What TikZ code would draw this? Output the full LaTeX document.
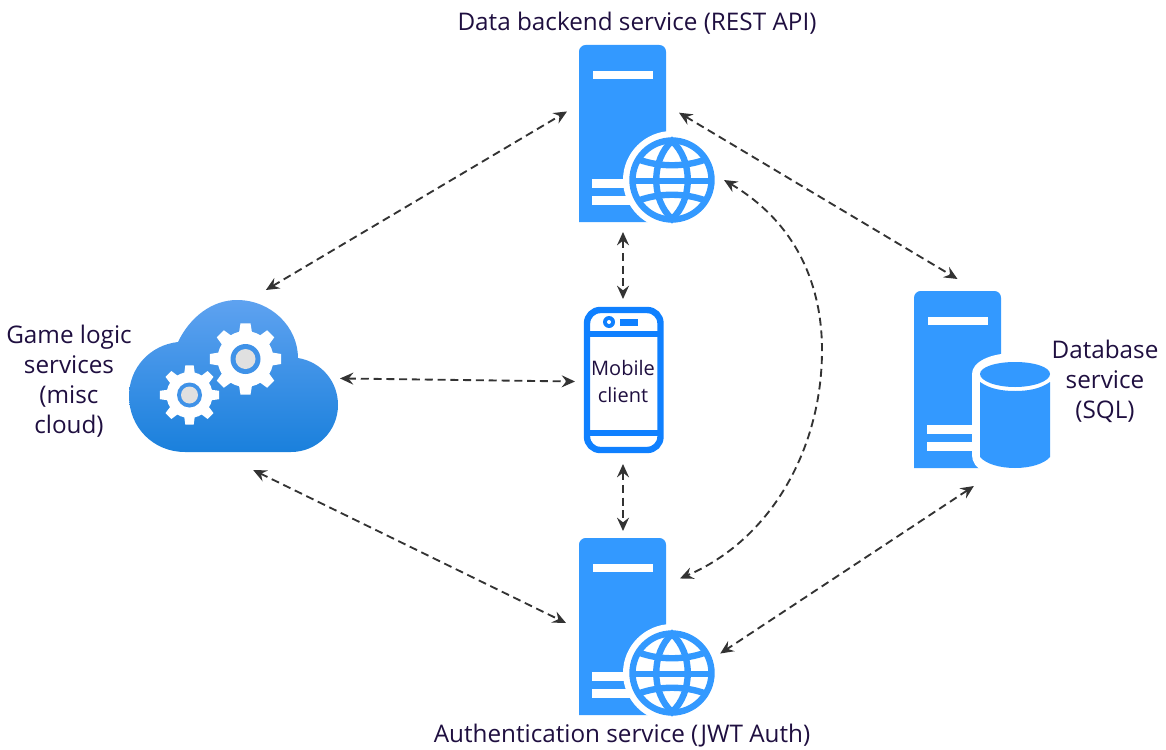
\documentclass[tikz,border=0pt]{standalone}
\usepackage{fontspec}
\setmainfont{Open Sans}
\usetikzlibrary{arrows.meta,calc}
\definecolor{srvblue}{HTML}{3399FF}
\definecolor{phoneblue}{HTML}{0F80FF}
\definecolor{labelink}{HTML}{1F0F40}
\definecolor{linkgrey}{HTML}{333333}
\definecolor{hubgrey}{HTML}{E0E0E0}
\definecolor{gearblue}{HTML}{3F92E8}
\definecolor{cloudtop}{HTML}{5EA2F0}
\definecolor{cloudbot}{HTML}{1A80DC}
\tikzset{
    iconbox/.style={inner sep=0pt, outer sep=0pt},
    label/.style={text=labelink, font=\fontsize{18.2}{22.5}\selectfont, align=center, inner sep=0pt},
    link/.style={draw=linkgrey, line width=1.4pt, dash pattern=on 6pt off 3.6pt, <->, >={Stealth[length=10pt,width=9pt,inset=3.5pt]}},
    pics/server/.style={code={
        \fill [srvblue, rounded corners=5pt] (0,177) -- (0,0) -- (87,0) -- (87,177) [sharp corners] -- cycle;
        \fill [white] (14,26) rectangle (74,34);
        \fill [white] (13,134) rectangle (60,143);
        \fill [white] (13,151) rectangle (60,160);
    }},
    pics/globe/.style={code={
        \fill [white] (0,0) circle (49);
        \draw [srvblue, line width=4.8pt] (0,0) circle (39.5);
        \draw [srvblue, line width=4.8pt] (0,-39) .. controls (-21,-20) and (-21,20) .. (0,39) .. controls (21,20) and (21,-20) .. (0,-39) -- cycle;
        \draw [srvblue, line width=4.8pt] (-32,-20) .. controls (-12,-13) and (12,-13) .. (32,-20);
        \draw [srvblue, line width=4.8pt] (-32,20) .. controls (-12,13) and (12,13) .. (32,20);
        \draw [srvblue, line width=3.8pt] (-39,1) -- (39,1);
    }}
}
\newcommand{\gearicon}[6]{
    \begin{scope}[shift={(#1,#2)}]
        \fill [white] (0,0) circle (#4);
        \foreach \ang in {0,45,...,315}
            \fill [white] (\ang-14:#4-1) -- (\ang-8:#3) -- (\ang+8:#3) -- (\ang+14:#4-1) -- cycle;
        \fill [gearblue] (0,0) circle (#5);
        \fill [hubgrey] (0,0) circle (#6);
    \end{scope}
}
\begin{document}
\begin{tikzpicture}[x=0.75pt, y=-0.75pt]
    \useasboundingbox (0,0) rectangle (1166,749);

    % icons
    \pic at (579,45) {server};
    \pic at (672,180) {globe};
    \pic at (579,538) {server};
    \pic at (672,673) {globe};
    \pic at (914,291) {server};
    \fill [white] (972,374) .. controls (972,362) and (990,353) .. (1015,353) -- (1058,353) -- (1058,472) -- (985,472) .. controls (976,468) and (972,462) .. (972,455) -- cycle;
    \fill [srvblue] (980,374) .. controls (980,367) and (996,362) .. (1015,362) .. controls (1034,362) and (1050,367) .. (1050,374) .. controls (1050,381) and (1034,387) .. (1015,387) .. controls (996,387) and (980,381) .. (980,374) -- cycle;
    \fill [srvblue] (980,382) .. controls (990,389) and (1002,391) .. (1015,391) .. controls (1028,391) and (1040,389) .. (1050,382) -- (1050,457) .. controls (1044,464) and (1030,468) .. (1015,468) .. controls (1000,468) and (986,464) .. (980,457) -- cycle;

    % cloud
    \shade [top color=cloudtop, bottom color=cloudbot] (185,452) .. controls (153,452) and (129,427) .. (129,396) .. controls (129,368) and (150,345) .. (178,342) .. controls (190,317) and (212,300) .. (237,300) .. controls (271,300) and (298,327) .. (298,358) .. controls (322,362) and (338,382) .. (338,405) .. controls (338,431) and (317,452) .. (291,452) -- cycle;
    \gearicon{245.5}{359}{36}{28}{15}{10}
    \gearicon{189.5}{395}{30}{23}{12.5}{8.5}

    % phone
    \draw [phoneblue, line width=4.8pt, rounded corners=10pt] (587,310) rectangle (660.5,450);
    \draw [phoneblue, line width=4.5pt] (587,334) -- (660.5,334);
    \draw [phoneblue, line width=4.5pt] (587,433) -- (660.5,433);
    \fill [phoneblue] (609,322) circle (6);
    \fill [white] (609,322) circle (2);
    \fill [phoneblue] (620,319) rectangle (638,326);

    % nodes
    \node [iconbox, minimum width=84pt, minimum height=138pt] (data) at (623,140) {};
    \node [iconbox, circle, minimum size=78pt] (dataglobe) at (672,180) {};
    \node [iconbox, minimum width=85.5pt, minimum height=138pt] (auth) at (623,623) {};
    \node [iconbox, circle, minimum size=78pt] (authglobe) at (672,673) {};
    \node [iconbox, minimum width=83.25pt, minimum height=155.25pt] (database) at (957.5,382.5) {};
    \node [iconbox, minimum width=135pt, minimum height=135pt] (cloud) at (250,380) {};
    \node [iconbox, label, font=\fontsize{15}{20}\selectfont, minimum width=72pt, minimum height=123.75pt] (mobile) at (623,381.5) {Mobile\\client};

    % labels
    \node [label] (datalabel) at (637,23) {Data backend service (REST API)};
    \node [label] (authlabel) at (622,736) {Authentication service (JWT Auth)};
    \node [label] (cloudlabel) at (69,381) {Game logic\\services\\(misc\\cloud)};
    \node [label] (dblabel) at (1105,381) {Database\\service\\(SQL)};

    % links
    \draw [link] (cloud.80.5) -- (data.153.4);
    \draw [link] (data.26.6) -- (database.north);
    \draw [link] (data.south) -- (mobile.north);
    \draw [link] (cloud.1.3) -- (mobile.west);
    \draw [link] (mobile.south) -- (auth.north);
    \draw [link] (cloud.272) -- (auth.west);
    \draw [link] (database.279.6) -- (authglobe.22.8);
    \draw [link] (dataglobe.east) .. controls (800,225) and (822,290) .. (822,350) .. controls (822,450) and (770,540) .. (auth.38.3);
\end{tikzpicture}
\end{document}
